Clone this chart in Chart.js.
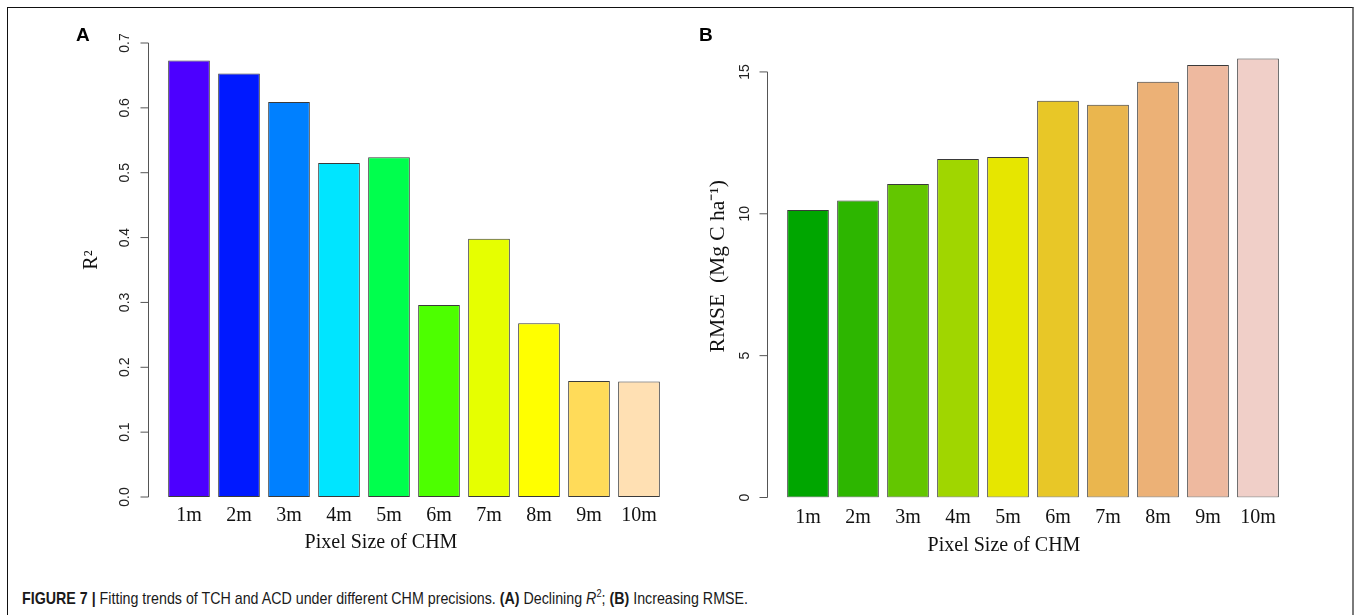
<!DOCTYPE html>
<html><head><meta charset="utf-8">
<script src="https://cdn.jsdelivr.net/npm/chart.js@4.4.1/dist/chart.umd.min.js"></script>
<style>
html,body{margin:0;padding:0;background:#fff;width:1358px;height:615px;overflow:hidden;position:relative;}
#frame{position:absolute;left:7px;top:7px;width:1347px;height:640px;border-left:1.5px solid #111;border-top:1.5px solid #111;border-right:2px solid #7a7a7a;box-sizing:border-box;}
.panel{position:absolute;top:0;height:570px;}
.letter{position:absolute;font-family:"Liberation Sans",Arial,sans-serif;font-weight:bold;font-size:19px;line-height:1;color:#000;}
#caption{position:absolute;left:22px;top:589px;white-space:nowrap;font-family:"Liberation Sans Narrow","Liberation Sans",Arial,sans-serif;font-size:17px;line-height:20px;color:#1a1a1a;transform-origin:0 0;}
#caption sup{font-size:11px;line-height:0;vertical-align:7px;}
</style></head><body>
<div id="frame"></div>
<div class="panel" id="pa" style="left:0;width:680px;"><canvas id="ca"></canvas></div>
<div class="panel" id="pb" style="left:680px;width:678px;"><canvas id="cb"></canvas></div>
<div class="letter" style="left:76px;top:25px;">A</div>
<div class="letter" style="left:699px;top:25px;">B</div>
<div id="caption"><b>FIGURE 7 |</b> Fitting trends of TCH and ACD under different CHM precisions. <b>(A)</b> Declining <i>R</i><sup>2</sup>; <b>(B)</b> Increasing RMSE.</div>
<script>
// ---- data ----
const categories = ['1m','2m','3m','4m','5m','6m','7m','8m','9m','10m'];
const r2Values = [0.673,0.653,0.609,0.515,0.524,0.296,0.398,0.268,0.179,0.178];
const rmseValues = [10.13,10.47,11.05,11.93,12.00,13.98,13.84,14.65,15.24,15.47];
const r2Ticks = [0,0.1,0.2,0.3,0.4,0.5,0.6,0.7];
const rmseTicks = [0,5,10,15];
const r2Colors = ['#4C00FF','#0019FF','#0080FF','#00E5FF','#00FF4D','#4DFF00','#E6FF00','#FFFF00','#FFDB59','#FFE0B3'];
const rmseColors = ['#00A600','#2DB600','#63C600','#A0D600','#E6E600','#E8C727','#EAB64E','#ECB176','#EEB99F','#F0CFC8'];
const xTitle = 'Pixel Size of CHM';
const r2Title = 'R\u00B2';
const rmseTitle = 'RMSE  (Mg C ha\u207B\u00B9)';

const axisPlugin = {
  id:'rAxis',
  afterLayout(chart, args, opts){
    ['x','y'].forEach(k => {
      const s = chart.scales[k];
      if (s._shiftWrapped) return;
      const orig = s.drawTitle.bind(s);
      const dx = k === 'x' ? opts.xTitleShift : 0;
      const dy = k === 'y' ? opts.yTitleShift : 0;
      s.drawTitle = function(){ const c = this.ctx; c.save(); c.translate(dx, dy); orig(); c.restore(); };
      s._shiftWrapped = true;
    });
  },
  afterDraw(chart, args, opts){
    const y = chart.scales.y, ctx = chart.ctx;
    const x0 = Math.round(chart.chartArea.left - opts.gap) + 0.5;
    const t = y.ticks;
    const top = y.getPixelForValue(t[t.length-1].value);
    const bot = y.getPixelForValue(t[0].value);
    ctx.save();
    ctx.strokeStyle = '#555'; ctx.lineWidth = 1;
    ctx.beginPath();
    ctx.moveTo(x0, top); ctx.lineTo(x0, bot);
    t.forEach(tk => { const p = y.getPixelForValue(tk.value); ctx.moveTo(x0, p); ctx.lineTo(x0 - opts.tickLen, p); });
    ctx.stroke();
    ctx.restore();
  }
};

function makeChart(id, values, colors, yTicks, yMax, fmt, cfg){
  return new Chart(document.getElementById(id), {
    type:'bar',
    data:{ labels:categories, datasets:[{ data:values, backgroundColor:colors, borderColor:'#3a3a3a', borderWidth:1, borderSkipped:false, barPercentage:0.834, categoryPercentage:1 }]},
    options:{
      responsive:true, maintainAspectRatio:false, animation:false,
      layout:{ padding:{ left:0, top:cfg.top, right:cfg.right, bottom:0 } },
      plugins:{ legend:{display:false}, tooltip:{enabled:false}, rAxis:{gap:16, tickLen:8, xTitleShift:cfg.xShift, yTitleShift:cfg.yShift} },
      scales:{
        x:{
          offset:true,
          grid:{display:false, drawTicks:false}, border:{display:false},
          ticks:{ color:'#111', padding:cfg.xPad, font:{family:'"Liberation Serif","Times New Roman",serif', size:20, lineHeight:1.2} },
          title:{ display:true, text:xTitle, color:'#111', padding:{top:0,bottom:cfg.xTitlePad}, font:{family:'"Liberation Serif","Times New Roman",serif', size:20, lineHeight:1.2} },
          afterFit(s){ s.height = cfg.xH; }
        },
        y:{
          min:0, max:yMax,
          grid:{display:false, drawTicks:false}, border:{display:false},
          afterBuildTicks(s){ s.ticks = yTicks.map(v => ({value:v})); },
          ticks:{ color:'#222', padding:cfg.yPad, minRotation:90, maxRotation:90, crossAlign:'center', font:{family:'"Liberation Sans",Arial,sans-serif', size:14, lineHeight:1.2}, callback:fmt },
          title:{ display:true, text:cfg.yTitle, color:'#111', padding:{top:cfg.yTitlePad,bottom:0}, font:{family:'"Liberation Serif","Times New Roman",serif', size:cfg.yTitleSize, lineHeight:1} },
          afterFit(s){ s.width = cfg.yW; }
        }
      }
    },
    plugins:[axisPlugin]
  });
}

makeChart('ca', r2Values, r2Colors, r2Ticks, 0.7, v => Number(v).toFixed(1),
  {top:43, right:16, xH:73, xPad:7, xTitlePad:15, yW:164, yPad:29, yTitle:r2Title, yTitlePad:82, yTitleSize:20, xShift:-33, yShift:-10});
makeChart('cb', rmseValues, rmseColors, rmseTicks, 16.09, v => String(v),
  {top:41, right:75, xH:72.5, xPad:8.5, xTitlePad:12, yW:103, yPad:30, yTitle:rmseTitle, yTitlePad:27.5, yTitleSize:21.5, xShift:-29, yShift:-3});

const cap = document.getElementById('caption');
const w = cap.getBoundingClientRect().width;
cap.style.transform = 'scaleX(' + (726 / w) + ')';
</script>
</body></html>
